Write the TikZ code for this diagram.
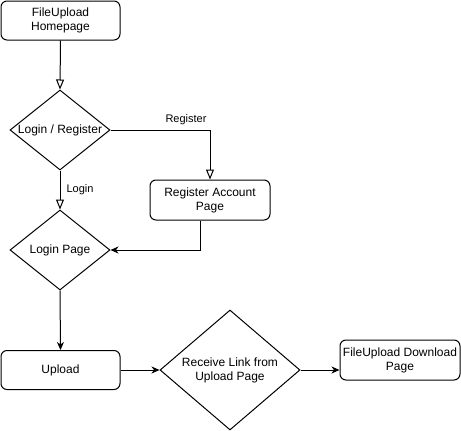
\documentclass[tikz,border=0pt]{standalone}
\usepackage{fontspec}
\setmainfont{Liberation Sans}
\usetikzlibrary{shapes.geometric,arrows.meta}
\begin{document}
\begin{tikzpicture}[x=1pt,y=-1pt,
  every node/.style={font=\fontsize{12}{14}\selectfont, align=center, inner sep=0pt},
  rbox/.style={draw, line width=1pt, rounded corners=6pt, minimum width=119pt, minimum height=39pt},
  dia/.style={draw, line width=1pt, diamond, minimum width=100pt, minimum height=80pt, aspect=1.25},
  conn/.style={line width=1pt},
  openarr/.style={-{Triangle[open,length=10pt,width=8pt]}},
  fillarr/.style={-{Stealth[length=8pt,width=7pt,inset=2.5pt]}},
  lbl/.style={font=\fontsize{11}{13}\selectfont}
]
\useasboundingbox (0,0) rectangle (461,431);
\node[rbox] (home) at (60.5,20.5) {FileUpload\\Homepage};
\node[dia] (lr) at (60,130) {};
\node (lrtext) at (60,130) {Login / Register};
\node[rbox, minimum width=120pt, minimum height=40pt] (reg) at (210,200) {Register Account\\Page};
\node[dia] (lp) at (60,250) {};
\node (lptext) at (60,250) {Login Page};
\node[rbox] (up) at (60.5,370) {Upload};
\node[dia, minimum width=140pt, minimum height=120pt, aspect=1.1667] (rcv) at (230,370) {};
\node (rcvtext) at (230,370) {Receive Link from\\Upload Page};
\node[rbox, minimum width=120pt, minimum height=40pt] (dl) at (400,360) {FileUpload Download\\Page};
\coordinate (regin) at (210,130);
\coordinate (regout) at (200,250);

\draw[conn, openarr] (home.south) -- (lr.north);
\draw[conn, openarr] (lr.east) -- (regin) -- (reg.north);
\node[lbl] (reglbl) at (186,120) {Register};
\draw[conn, openarr] (lr.south) -- (lp.north);
\node[lbl] (loginlbl) at (80,190) {Login};
\draw[conn, fillarr] (reg.south -| regout) -- (regout) -- (lp.east);
\draw[conn, fillarr] (lp.south) -- (up.north);
\draw[conn, fillarr] (up.east) -- (rcv.west);
\draw[conn, fillarr] (rcv.east) -- (dl.west |- rcv.east);
\end{tikzpicture}
\end{document}
